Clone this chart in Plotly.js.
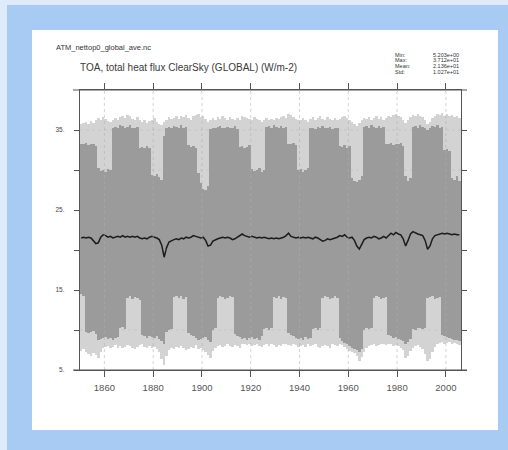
<!DOCTYPE html>
<html>
<head>
<meta charset="utf-8">
<script src="https://cdn.plot.ly/plotly-3.0.1.min.js"></script>
<style>
  html, body { margin:0; padding:0; width:508px; height:450px; overflow:hidden; background:#dfeafa; }
  #blue { position:absolute; left:7px; top:5px; width:501px; height:445px; background:#a8cbf4; }
  #panel { position:absolute; left:32px; top:30px; width:466px; height:400px; background:#ffffff; }
  #chart { position:absolute; left:0; top:0; width:508px; height:450px; }
</style>
</head>
<body>
<div id="blue"></div>
<div id="panel"></div>
<div id="chart"></div>
<script>
// ---- data ----
const years = [];
for (let y = 1850; y <= 2005; y++) years.push(y);

// upper edge of the light-grey monthly envelope
const lightTop = [
  35.8,35.9,36.0,35.7,36.1,35.9,36.3,36.5,36.2,36.6,
  36.4,36.1,36.0,36.3,36.5,36.2,36.6,36.8,36.5,36.9,
  36.7,36.4,36.3,36.6,36.2,36.0,36.3,35.9,36.1,36.2,
  36.5,36.0,35.8,35.6,36.0,36.3,36.6,36.4,36.5,36.8,
  36.4,36.7,36.6,36.9,36.5,36.3,36.7,36.9,37.0,36.6,
  36.8,36.4,36.0,36.2,36.5,36.3,36.6,36.4,36.7,36.5,
  36.3,36.6,36.4,36.2,36.5,36.3,36.8,36.6,36.5,36.4,
  36.3,36.6,36.4,36.2,36.0,36.3,36.5,36.2,36.4,36.3,
  36.5,36.4,36.6,36.8,36.5,37.0,36.9,36.6,36.4,36.2,
  36.3,36.5,36.2,36.0,36.4,36.6,36.3,36.5,36.7,36.4,
  36.3,36.6,36.4,36.2,36.5,36.3,36.4,36.6,36.8,36.5,
  36.3,36.0,35.8,35.5,35.9,36.2,36.5,36.4,36.6,36.3,
  36.5,36.7,36.4,36.6,36.3,36.5,36.8,36.6,36.9,37.0,
  36.8,36.6,36.3,35.9,36.2,36.6,36.9,36.7,37.0,36.8,
  36.6,36.3,35.8,36.0,36.5,36.8,37.0,36.9,37.1,36.8,
  37.0,36.8,36.9,36.6,36.7,36.5
];
// lower edge of the light-grey monthly envelope
const lightBot = [
  7.4,7.6,7.2,7.0,6.8,7.1,6.9,6.5,7.3,7.8,
  7.9,8.0,7.7,7.9,8.1,7.8,8.0,7.7,7.9,8.1,
  8.0,7.8,7.6,7.9,8.1,8.2,7.9,7.7,8.0,7.8,
  7.9,7.6,7.2,6.4,5.6,6.8,7.5,7.7,7.6,7.9,
  7.8,8.0,7.7,7.5,7.6,7.9,7.8,8.1,7.6,7.7,
  7.5,7.3,6.9,6.5,7.4,7.8,8.0,8.1,7.9,8.0,
  8.2,8.0,7.9,8.1,8.0,7.8,8.2,8.3,8.1,8.2,
  8.0,8.1,8.2,8.0,7.9,8.1,8.3,8.0,8.2,8.1,
  7.9,8.1,8.0,8.2,8.3,8.1,8.0,8.2,8.1,7.9,
  8.0,8.1,7.9,8.2,8.0,8.1,8.3,7.9,7.8,8.0,
  8.1,8.0,7.8,8.2,8.1,8.0,8.2,8.1,7.9,7.6,
  7.4,7.2,7.1,6.8,6.1,6.6,7.3,7.7,8.0,8.1,
  8.2,8.0,8.1,8.3,8.2,8.1,8.3,8.2,8.0,8.1,
  8.0,7.8,7.5,6.5,6.8,7.4,7.8,8.0,8.1,7.9,
  7.6,7.0,6.1,6.4,7.2,7.9,8.3,8.4,8.5,8.3,
  8.4,8.5,8.3,8.4,8.2,8.1
];
// upper edge of the dense (dark) band of monthly lines
const darkTop = [
  33.2,33.2,33.4,33.1,33.3,33.2,33.0,30.2,29.9,30.0,
  29.8,30.1,30.0,35.2,35.4,35.3,35.6,35.5,35.3,35.4,
  35.6,35.3,35.2,35.4,32.8,32.9,32.7,33.0,32.8,29.4,
  29.2,29.5,29.1,28.8,34.3,35.2,35.4,35.3,35.5,35.4,
  35.3,35.6,35.2,35.4,33.1,32.9,33.0,32.8,29.6,28.4,
  27.6,27.5,28.0,35.1,35.3,35.2,35.4,35.5,35.3,35.2,
  35.4,35.3,35.2,35.5,35.1,32.9,33.0,32.8,32.9,33.1,
  30.1,29.9,30.0,30.2,29.8,30.0,35.4,35.5,35.3,35.6,
  35.4,35.2,35.5,35.3,35.4,33.3,33.2,33.4,33.1,30.0,
  30.1,29.8,30.0,30.2,35.2,35.3,35.1,35.4,35.2,35.5,
  35.3,35.2,35.4,35.1,35.3,35.2,33.0,32.9,33.1,32.8,
  33.0,29.0,28.6,28.5,28.8,29.2,35.4,35.5,35.3,35.6,
  35.4,35.3,35.5,35.2,35.4,33.3,33.2,33.4,33.1,33.3,
  33.2,33.4,33.0,29.2,28.6,29.0,35.4,35.5,35.3,35.6,
  35.4,35.2,35.0,35.3,35.5,35.4,35.6,35.3,35.4,32.5,
  32.6,32.4,29.0,28.8,29.2,28.6
];
// lower edge of the dense (dark) band of monthly lines
const darkBot = [
  14.5,14.2,9.8,9.6,9.7,9.9,9.5,8.8,8.9,9.0,
  9.1,8.9,9.0,8.8,9.0,9.1,10.2,10.4,10.1,14.0,
  14.2,13.9,14.1,14.0,13.8,9.4,9.2,9.0,9.3,9.1,
  9.0,9.2,8.9,8.6,8.2,9.8,10.0,10.1,14.1,14.3,
  14.0,14.2,13.9,14.1,9.6,9.4,9.2,9.0,8.8,8.9,
  9.0,9.1,8.8,8.5,10.0,10.2,14.0,14.2,14.1,13.9,
  14.0,14.2,14.1,9.5,9.3,9.1,8.9,9.0,8.8,9.0,
  9.1,8.9,9.0,8.8,9.2,10.1,10.3,10.0,10.2,14.1,
  14.0,14.2,13.9,14.1,14.0,9.6,9.4,9.2,9.0,8.9,
  9.0,8.8,9.1,8.9,9.0,10.1,10.2,10.0,10.3,14.0,
  14.2,14.1,13.9,14.0,14.2,14.0,9.0,8.6,8.4,8.2,
  8.0,7.8,7.6,7.5,7.2,7.6,10.0,10.2,10.1,10.3,
  14.0,14.2,14.1,13.9,14.0,14.1,9.4,9.2,9.0,9.1,
  8.9,8.8,8.6,8.2,8.5,8.9,10.1,10.0,10.2,10.3,
  10.1,10.2,14.0,14.1,14.2,13.9,14.0,14.1,9.4,9.2,
  9.1,9.0,8.9,8.8,8.7,8.6
];
// annual mean (black line)
const annualMean = [
  21.5,21.6,21.5,21.6,21.5,21.2,20.8,20.9,21.6,21.9,
  21.8,21.6,21.7,21.5,21.6,21.7,21.6,21.8,21.6,21.7,
  21.6,21.7,21.6,21.7,21.5,21.4,21.5,21.4,21.6,21.7,
  21.6,21.5,21.3,20.6,19.1,20.3,21.0,21.2,21.3,21.4,
  21.3,21.5,21.4,21.6,21.5,21.6,21.8,21.7,21.6,21.5,
  21.6,21.2,20.5,20.6,21.1,21.3,21.4,21.5,21.6,21.5,
  21.6,21.5,21.3,21.4,21.6,21.8,22.0,21.8,21.7,21.6,
  21.7,21.6,21.5,21.6,21.5,21.6,21.5,21.4,21.5,21.4,
  21.5,21.4,21.5,21.6,21.8,22.1,21.7,21.6,21.5,21.6,
  21.5,21.6,21.5,21.6,21.5,21.4,21.6,21.5,21.3,21.1,
  21.2,21.4,21.3,21.4,21.5,21.6,21.8,21.7,21.9,21.6,
  21.5,21.6,21.2,20.5,20.1,20.8,21.3,21.5,21.6,21.5,
  21.7,21.6,21.4,21.5,21.7,21.5,21.8,22.1,21.9,22.2,
  22.0,21.9,21.4,20.5,21.2,22.0,22.3,22.1,22.0,21.9,
  21.8,21.2,20.1,20.5,21.4,21.8,21.9,22.0,22.1,22.0,
  22.1,22.0,21.9,22.0,21.9,21.9
];

const xTickVals = [1860, 1880, 1900, 1920, 1940, 1960, 1980, 2000];
const xTickText = ['1860', '1880', '1900', '1920', '1940', '1960', '1980', '2000'];
const yTickVals = [5, 10, 15, 20, 25, 30, 35];
const yTickText = ['5.', '', '15.', '', '25.', '', '35.'];

const fileName = 'ATM_nettop0_global_ave.nc';
const titleText = 'TOA, total heat flux ClearSky (GLOBAL) (W/m-2)';
const statLabels = ['Min:', 'Max:', 'Mean:', 'Std:'];
const statValues = ['5.203e+00', '3.712e+01', '2.136e+01', '1.027e+01'];

// ---- drawing ----
const xc = years.map(y => y + 0.5);
const FONT = 'Liberation Sans, Arial, Helvetica, sans-serif';

const traces = [
  { type: 'bar', x: xc, base: lightBot, y: lightTop.map((v, i) => v - lightBot[i]),
    width: 1, marker: { color: '#d3d3d3', line: { width: 0 } }, hoverinfo: 'skip' },
  { type: 'bar', x: xc, base: darkBot, y: darkTop.map((v, i) => v - darkBot[i]),
    width: 1, marker: { color: '#9b9b9b', line: { width: 0 } }, hoverinfo: 'skip' },
  { type: 'scatter', mode: 'lines', x: xc, y: annualMean,
    line: { color: '#1c1c1c', width: 1.5 }, hoverinfo: 'skip' }
];

// plot area in pixels
const L = 80, R = 461, T = 90, B = 370;
const W = 508, H = 450;
const px = p => (p - L) / (R - L);
const py = p => (B - p) / (B - T);

const shapes = [];
xTickVals.forEach(v => shapes.push({ type: 'line', xref: 'x', yref: 'paper', x0: v, x1: v, y0: 0, y1: 1,
  line: { color: 'rgba(175,175,175,0.7)', width: 0.8, dash: 'dot' }, layer: 'above' }));
yTickVals.slice(1).forEach(v => shapes.push({ type: 'line', xref: 'paper', yref: 'y', x0: 0, x1: 1, y0: v, y1: v,
  line: { color: 'rgba(170,170,170,0.45)', width: 0.6, dash: 'dot' }, layer: 'above' }));
// horizontal frame lines extend slightly past the sides
[0, 1].forEach(yy => shapes.push({ type: 'line', xref: 'paper', yref: 'paper', x0: px(73), x1: px(467), y0: yy, y1: yy,
  line: { color: '#555555', width: 1.2 }, layer: 'above' }));

const annotations = [
  { xref: 'paper', yref: 'paper', x: px(54), y: py(47), xanchor: 'left', yanchor: 'middle', showarrow: false,
    text: fileName, font: { family: FONT, size: 7.5, color: '#333' } },
  { xref: 'paper', yref: 'paper', x: px(78), y: py(67), xanchor: 'left', yanchor: 'middle', showarrow: false,
    text: titleText, font: { family: FONT, size: 10, color: '#3a3a3a' } }
];
statLabels.forEach((s, i) => {
  const yy = py(55 + i * 5.5);
  annotations.push({ xref: 'paper', yref: 'paper', x: px(393), y: yy, xanchor: 'left', yanchor: 'middle', showarrow: false,
    text: s, font: { family: FONT, size: 5.5, color: '#333' } });
  annotations.push({ xref: 'paper', yref: 'paper', x: px(461), y: yy, xanchor: 'right', yanchor: 'middle', showarrow: false,
    text: statValues[i], font: { family: FONT, size: 5.5, color: '#333' } });
});

const layout = {
  width: W, height: H,
  margin: { l: L, r: W - R, t: T, b: H - B, pad: 0 },
  paper_bgcolor: 'rgba(0,0,0,0)', plot_bgcolor: '#ffffff',
  showlegend: false, barmode: 'overlay', bargap: 0,
  xaxis: { range: [1850, 2006.2], tickvals: xTickVals, ticktext: xTickText,
    ticks: 'outside', ticklen: 6, tickcolor: '#555', tickwidth: 1,
    showline: true, linecolor: '#555', linewidth: 1.2, mirror: 'ticks',
    showgrid: false, zeroline: false, ticklabelstandoff: 2,
    tickfont: { family: FONT, size: 9.5, color: '#555' } },
  yaxis: { range: [5, 40], tickvals: yTickVals, ticktext: yTickText,
    ticks: 'outside', ticklen: 5, tickcolor: '#555', tickwidth: 1,
    showline: true, linecolor: '#555', linewidth: 1.2, mirror: 'ticks',
    showgrid: false, zeroline: false, ticklabelstandoff: 8,
    tickfont: { family: FONT, size: 6.5, color: '#444' } },
  shapes: shapes, annotations: annotations
};

Plotly.newPlot('chart', traces, layout, { staticPlot: true, displayModeBar: false });
</script>
</body>
</html>
